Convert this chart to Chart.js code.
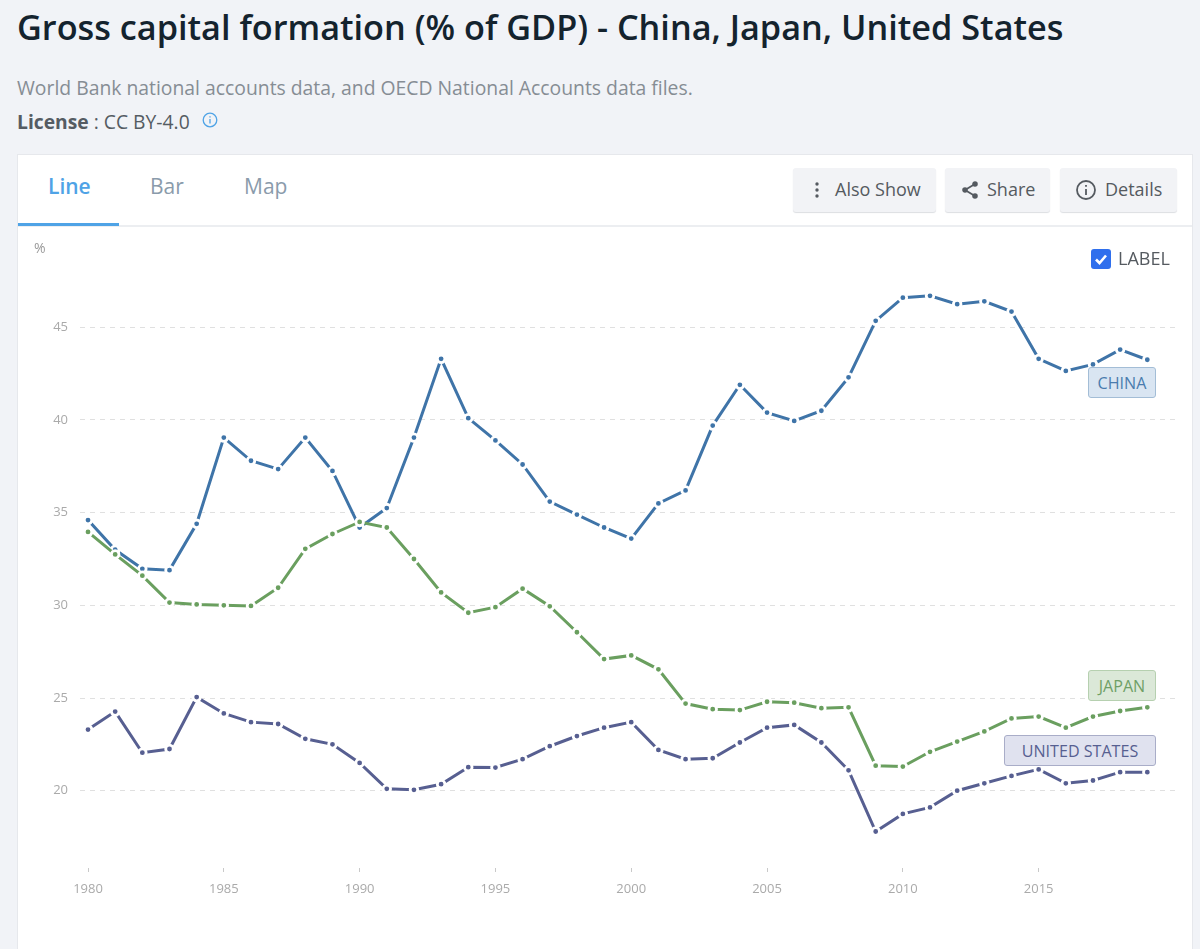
<!DOCTYPE html>
<html>
<head>
<meta charset="utf-8">
<title>Gross capital formation (% of GDP)</title>
<script src="https://cdn.jsdelivr.net/npm/chart.js@4"></script>
<style>
  html, body { margin: 0; padding: 0; }
  body { width: 1200px; height: 949px; overflow: hidden; background: #f1f3f7; font-family: "Open Sans", sans-serif; position: relative; }
  .abs { position: absolute; white-space: nowrap; line-height: 1; }
  #title { left: 17px; top: 10px; font-size: 34.25px; font-weight: 600; color: #14232e; }
  #source { left: 17px; top: 78px; font-size: 19.35px; color: #868d94; }
  #license { left: 17px; top: 112px; font-size: 19.3px; color: #555c63; }
  #license b { font-weight: 700; }
  #card { position: absolute; left: 17px; top: 154px; width: 1176px; height: 800px; background: #fff; border: 1px solid #e6e8ec; box-sizing: border-box; }
  #rule { position: absolute; left: 18px; top: 225px; width: 1174px; height: 2px; background: #eceef1; }
  #tabline { position: absolute; left: 18px; top: 223px; width: 101px; height: 3px; background: #4fa3e6; }
  .tab { top: 176px; font-size: 21px; color: #8a9bab; }
  .btn { position: absolute; top: 168px; height: 44px; background: #f2f3f6; border-radius: 3px; box-shadow: 0 1px 1px #dcdee2; color: #555a60; font-size: 18px; line-height: 42px; box-sizing: border-box; white-space: nowrap; }
  .btn svg { position: absolute; top: 11px; }
  .btn span { position: absolute; top: 0; }
  #chart { position: absolute; left: 18px; top: 228px; }
  #pct { left: 34px; top: 241px; font-size: 14px; color: #9a9a9a; }
  #check { position: absolute; left: 1091px; top: 249px; }
  #labeltxt { left: 1118px; top: 248.5px; font-size: 18px; color: #555a60; }
  .tag { position: absolute; height: 31px; line-height: 30px; font-size: 16.1px; text-align: center; border-radius: 3px; border: 1px solid; box-sizing: border-box; white-space: nowrap; }
</style>
</head>
<body>
<div id="title" class="abs">Gross capital formation (% of GDP) - China, Japan, United States</div>
<div id="source" class="abs">World Bank national accounts data, and OECD National Accounts data files.</div>
<div id="license" class="abs"><b>License</b> : CC BY-4.0</div>
<svg class="abs" style="left:202px;top:112px" width="16" height="16" viewBox="0 0 16 16" fill="none" stroke="#4fa3e6" stroke-width="1.3"><circle cx="8" cy="8" r="6.8"/><path d="M8 7v4.5M8 4.2v1.3"/></svg>

<div id="card"></div>
<div id="rule"></div>
<div id="tabline"></div>
<div class="abs tab" style="left:48px;color:#4fa3e6;font-weight:600">Line</div>
<div class="abs tab" style="left:150px">Bar</div>
<div class="abs tab" style="left:244px">Map</div>

<div class="btn" style="left:793px;width:143px">
  <svg style="left:14px" width="20" height="22" viewBox="0 0 20 22" fill="#555a60"><circle cx="10" cy="5" r="1.7"/><circle cx="10" cy="11" r="1.7"/><circle cx="10" cy="17" r="1.7"/></svg>
  <span style="left:42px">Also Show</span>
</div>
<div class="btn" style="left:945px;width:105px">
  <svg style="left:14px" width="22" height="22" viewBox="0 0 22 22" fill="#555a60" stroke="#555a60" stroke-width="1.8"><path d="M16 5 6 11l10 6" fill="none"/><circle cx="16" cy="5" r="1.9"/><circle cx="6" cy="11" r="1.9"/><circle cx="16" cy="17" r="1.9"/></svg>
  <span style="left:42px">Share</span>
</div>
<div class="btn" style="left:1060px;width:117px">
  <svg style="left:15px" width="22" height="22" viewBox="0 0 22 22" fill="none" stroke="#555a60" stroke-width="1.8"><circle cx="11" cy="11" r="9"/><path d="M11 10v6M11 6v1.8"/></svg>
  <span style="left:45px">Details</span>
</div>

<canvas id="chart" width="1175" height="721" style="width:1175px;height:721px"></canvas>

<div id="pct" class="abs">%</div>
<svg id="check" width="20" height="20" viewBox="0 0 20 20"><rect width="20" height="20" rx="3" fill="#2f6fed"/><path d="M5 10.5l3.5 3.5L15 6.5" fill="none" stroke="#fff" stroke-width="2.6"/></svg>
<div id="labeltxt" class="abs">LABEL</div>

<div class="tag" style="left:1088px;top:367px;width:68px;background:#d9e5f2;border-color:#a3bdd6;color:#4a7cae">CHINA</div>
<div class="tag" style="left:1088px;top:670px;width:68px;background:#dbe8d8;border-color:#b6d0b0;color:#6f9f66">JAPAN</div>
<div class="tag" style="left:1004px;top:735px;width:152px;background:#e0e2ef;border-color:#a9adc8;color:#575f91">UNITED STATES</div>

<script>
const years = [1980, 1981, 1982, 1983, 1984, 1985, 1986, 1987, 1988, 1989,
  1990, 1991, 1992, 1993, 1994, 1995, 1996, 1997, 1998, 1999,
  2000, 2001, 2002, 2003, 2004, 2005, 2006, 2007, 2008, 2009,
  2010, 2011, 2012, 2013, 2014, 2015, 2016, 2017, 2018, 2019];

const china = [34.6, 33.0, 31.97, 31.9, 34.4, 39.05, 37.8, 37.35, 39.05, 37.25,
  34.2, 35.25, 39.05, 43.3, 40.1, 38.9, 37.6, 35.6, 34.9, 34.2,
  33.6, 35.5, 36.2, 39.7, 41.9, 40.4, 39.95, 40.5, 42.3, 45.35,
  46.6, 46.7, 46.25, 46.4, 45.85, 43.3, 42.65, 43.0, 43.8, 43.25];

const japan = [33.96, 32.75, 31.6, 30.15, 30.05, 30.0, 29.97, 30.95, 33.05, 33.85,
  34.5, 34.2, 32.5, 30.7, 29.6, 29.9, 30.9, 29.95, 28.55, 27.1,
  27.3, 26.55, 24.7, 24.4, 24.35, 24.8, 24.75, 24.45, 24.5, 21.35,
  21.3, 22.1, 22.65, 23.2, 23.9, 24.0, 23.4, 24.0, 24.3, 24.5];

const unitedStates = [23.3, 24.27, 22.05, 22.25, 25.05, 24.17, 23.7, 23.6, 22.8, 22.5,
  21.5, 20.1, 20.05, 20.35, 21.27, 21.25, 21.7, 22.4, 22.95, 23.4,
  23.7, 22.2, 21.7, 21.75, 22.6, 23.4, 23.55, 22.6, 21.1, 17.8,
  18.75, 19.1, 20.0, 20.4, 20.8, 21.15, 20.4, 20.55, 21.0, 21.0];

// one line with the white ring round each point
function lineSet(label, values, color, order) {
  return {
    label: label,
    data: years.map((y, i) => ({ x: y, y: values[i] })),
    borderColor: color,
    backgroundColor: color,
    borderWidth: 3,
    tension: 0,
    pointRadius: 3.8,
    pointBorderColor: "#fff",
    pointBackgroundColor: color,
    pointBorderWidth: 2.8,
    order: order,
  };
}

new Chart(document.getElementById("chart"), {
  type: "line",
  data: {
    datasets: [
      lineSet("China", china, "#3f74a8", 1),
      lineSet("Japan", japan, "#6a9f5f", 0),
      lineSet("United States", unitedStates, "#575f91", 2),
    ],
  },
  options: {
    responsive: false,
    animation: false,
    layout: { padding: { top: 5, right: 15, left: 0, bottom: 0 } },
    plugins: { legend: { display: false }, tooltip: { enabled: false } },
    scales: {
      x: {
        type: "linear",
        min: 1979.705,
        max: 2020.13,
        afterFit: (scale) => { scale.height = 81; },
        // the axis stops at 2015, no label for 2020
        afterBuildTicks: (scale) => { scale.ticks = scale.ticks.filter((t) => t.value <= 2015); },
        border: { display: false },
        grid: { drawOnChartArea: false, tickLength: 4, tickColor: "#c9c9c9", tickWidth: 1 },
        ticks: {
          stepSize: 5,
          includeBounds: false,
          maxRotation: 0,
          padding: 9,
          color: "#aaaaaa",
          font: { family: "Open Sans", size: 13 },
          callback: (v) => String(v),
        },
      },
      y: {
        min: 15.83,
        max: 49.29,
        afterFit: (scale) => { scale.width = 62; },
        border: { display: false, dash: [5, 5] },
        grid: { color: "#e0e0e0", lineWidth: 1, drawTicks: false },
        ticks: {
          stepSize: 5,
          includeBounds: false,
          padding: 12,
          color: "#aaaaaa",
          font: { family: "Open Sans", size: 13 },
        },
      },
    },
  },
});
</script>
</body>
</html>
